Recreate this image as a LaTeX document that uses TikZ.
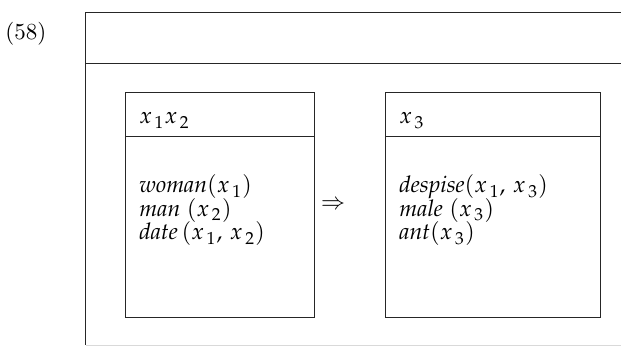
\documentclass[tikz,border=0pt]{standalone}
\usepackage{mathpazo}
\newcommand\xv[1]{x\mkern2mu_{#1}}
\begin{document}
\begin{tikzpicture}[x=1pt,y=1pt,
  drsline/.style={line width=0.8pt,draw=black!85},
  txt/.style={anchor=base west,inner sep=0pt,scale=2.3,align=left}]
\useasboundingbox (0,0) rectangle (621,355);
% outer DRS
\draw[drsline] (621,343) -- (85.5,343) -- (85.5,10);
\draw[drsline] (85.5,292) -- (621,292);
\draw[line width=0.8pt,black!15] (85.5,10) -- (621,10);
\node[txt] (num) at (5,315) {(58)};
% left box
\node[drsline,draw,rectangle,minimum width=189pt,minimum height=225pt,anchor=south west,inner sep=0pt] (L) at (125,37) {};
\draw[drsline] (125,219) -- (314,219);
\node[txt] (Lu) at (139,231) {$\xv1\xv2$};
\node[txt] (L1) at (139,162) {$\mathit{woman}(\xv1)$};
\node[txt] (L2) at (139,138.5) {$\mathit{man}\;(\xv2)$};
\node[txt] (L3) at (139,115) {$\mathit{date}\,(\xv1,\,\xv2)$};
% right box
\node[drsline,draw,rectangle,minimum width=215pt,minimum height=225pt,anchor=south west,inner sep=0pt] (R) at (385,37) {};
\draw[drsline] (385,219) -- (600,219);
\node[txt] (Ru) at (399,231) {$\xv3$};
\node[txt] (R1) at (399,162) {$\mathit{despise}(\xv1,\,\xv3)$};
\node[txt] (R2) at (399,138.5) {$\mathit{male}\;(\xv3)$};
\node[txt] (R3) at (399,115) {$\mathit{ant}(\xv3)$};
% implication
\node[inner sep=0pt,scale=2.3] (imp) at (333,150) {$\Rightarrow$};
\end{tikzpicture}
\end{document}
